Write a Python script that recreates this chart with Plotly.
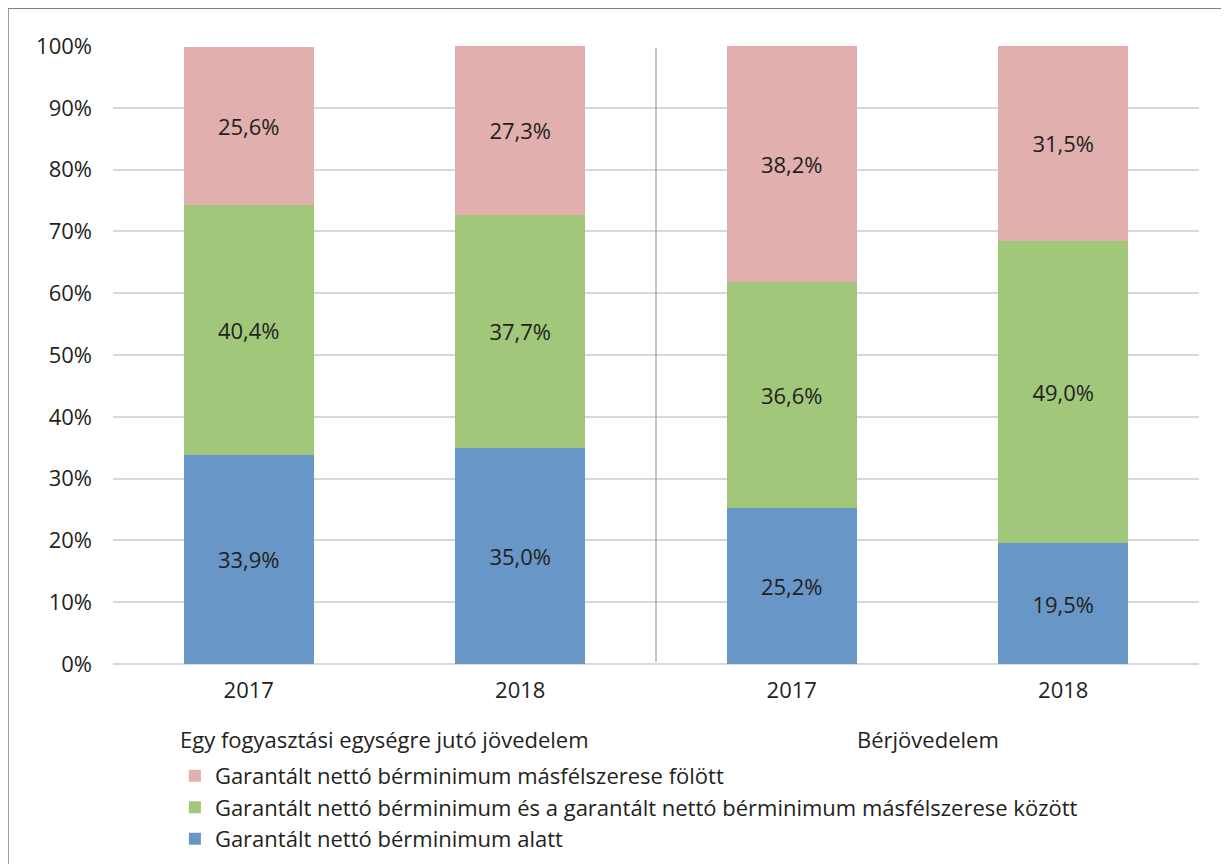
import plotly.graph_objects as go

years = ["2017", "2018", "2017", "2018"]
groups = ["Egy fogyasztási egységre jutó jövedelem", "Bérjövedelem"]
series_names = [
    "Garantált nettó bérminimum alatt",
    "Garantált nettó bérminimum és a garantált nettó bérminimum másfélszerese között",
    "Garantált nettó bérminimum másfélszerese fölött",
]
below = [33.9, 35.0, 25.2, 19.5]
between = [40.4, 37.7, 36.6, 49.0]
above = [25.6, 27.3, 38.2, 31.5]
y_ticks = [0, 10, 20, 30, 40, 50, 60, 70, 80, 90, 100]

colors = ["#6896C7", "#A0C77A", "#E0AFAE"]
FONT = "Open Sans, Noto Sans, sans-serif"
TXT = "#231F20"
FS = 22

x = list(range(len(years)))
fig = go.Figure()
for name, vals, col in zip(series_names, [below, between, above], colors):
    fig.add_trace(go.Bar(
        x=x, y=vals, name=name, marker=dict(color=col, line=dict(width=0)),
        width=0.48,
        text=[f"{v:.1f}%".replace(".", ",") for v in vals],
        textposition="inside", insidetextanchor="middle",
        textfont=dict(family=FONT, size=FS, color=TXT),
        hoverinfo="skip",
    ))

fig.update_layout(
    barmode="stack",
    width=1229, height=864,
    margin=dict(l=105, r=38, t=38, b=202),
    paper_bgcolor="white", plot_bgcolor="white",
    font=dict(family=FONT, size=FS, color=TXT),
    showlegend=True,
    legend=dict(
        traceorder="reversed", orientation="v",
        x=0.057, y=-0.147, xanchor="left", yanchor="top",
        font=dict(family=FONT, size=FS, color=TXT),
        itemsizing="constant", tracegroupgap=0,
        bgcolor="rgba(0,0,0,0)",
    ),
    xaxis=dict(
        tickmode="array", tickvals=x, ticktext=years,
        range=[-0.5, 3.5], showgrid=False, zeroline=False,
        showline=False, ticks="", ticklen=0, ticklabelstandoff=11,
        tickfont=dict(family=FONT, size=FS, color=TXT),
    ),
    yaxis=dict(
        range=[0, 100], tickmode="array", tickvals=y_ticks,
        ticktext=[f"{v}%" for v in y_ticks],
        showgrid=True, gridcolor="#D9D9D9", gridwidth=1.5,
        zeroline=True, zerolinecolor="#D9D9D9", zerolinewidth=1.5,
        showline=False, ticks="", ticklabelstandoff=20,
        tickfont=dict(family=FONT, size=FS, color=TXT),
    ),
)

# group labels
for gi, g in enumerate(groups):
    fig.add_annotation(
        x=2 * gi + 0.5, xref="x", y=-0.122, yref="paper",
        text=g, showarrow=False, xanchor="center", yanchor="middle",
        font=dict(family=FONT, size=FS, color=TXT),
    )

# divider line between groups
fig.add_shape(type="line", x0=1.5, x1=1.5, xref="x", y0=0.003, y1=0.997, yref="paper",
              line=dict(color="#8C8C8C", width=1))

# outer frame
fig.add_shape(type="rect", xref="paper", yref="paper",
              x0=(8 - 113) / 1086, x1=(1227 - 113) / 1086,
              y0=(667 - 875) / 621, y1=(667 - 8) / 621,
              line=dict(color="#808080", width=1.5), fillcolor="rgba(0,0,0,0)", layer="below")

fig.write_html("out.html")
